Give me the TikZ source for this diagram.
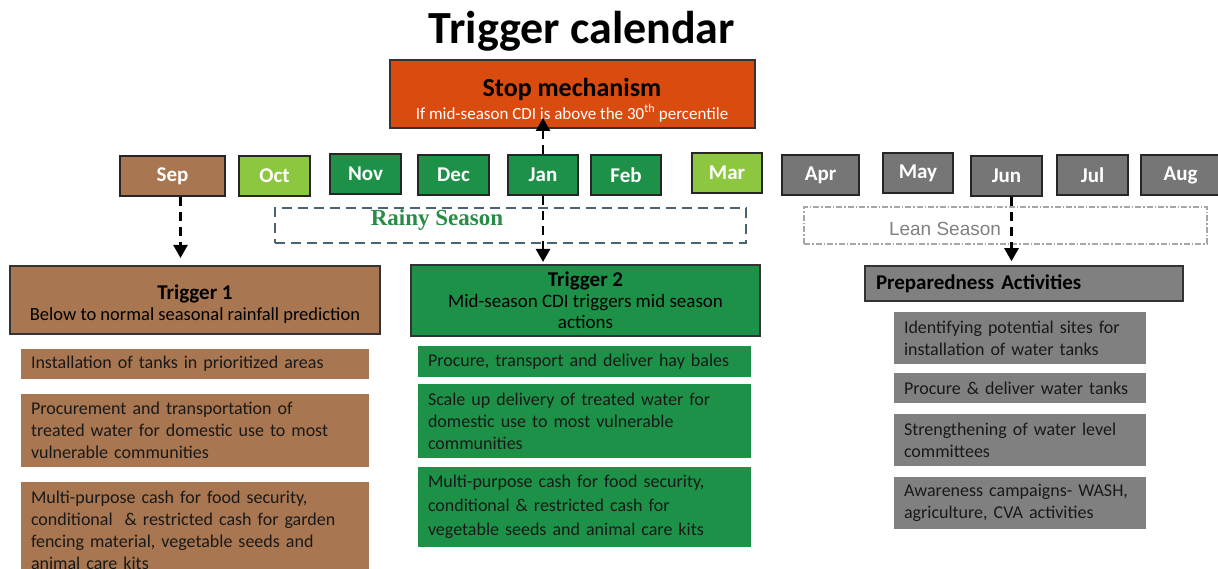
\documentclass[tikz,border=0pt]{standalone}
\usepackage{fontspec}
\setmainfont{Carlito}
\newfontfamily\rainfont{Liberation Serif}
\newfontfamily\leanfont{Liberation Sans}
\usetikzlibrary{arrows.meta}

\definecolor{brownfill}{RGB}{168,118,80}
\definecolor{darkgreen}{RGB}{30,145,72}
\definecolor{lightgreen}{RGB}{141,198,63}
\definecolor{monthgrey}{RGB}{118,118,118}
\definecolor{prepgrey}{RGB}{128,128,128}
\definecolor{stoporange}{RGB}{218,75,15}
\definecolor{rainline}{RGB}{72,100,115}
\definecolor{raintext}{RGB}{40,140,70}

\tikzset{
  month/.style={draw=black!85, line width=2.5pt, text=white, inner sep=0pt,
    font=\fontsize{21}{24}\selectfont\bfseries, minimum height=40pt},
  trig/.style={draw=black!80, line width=2pt, align=center, inner sep=0pt},
  item/.style={inner xsep=10pt, inner ysep=0pt, align=left, text=black!90,
    font=\fontsize{18}{22}\selectfont},
  arr/.style={line width=2.5pt, dash pattern=on 9pt off 6pt,
    -{Triangle[width=14pt,length=13pt]}}
}

\begin{document}
\begin{tikzpicture}[x=1pt,y=-1pt]
    \useasboundingbox (0,0) rectangle (1218,569);

    % title and stop box
    \node[font=\fontsize{46}{50}\selectfont\bfseries] (title) at (582,31) {Trigger calendar};
    \node[trig, fill=stoporange, minimum width=365pt, minimum height=68pt,
        font=\fontsize{17}{20}\selectfont] (stop) at (572,94)
        {\rule{0pt}{30pt}{\fontsize{26}{28}\selectfont\bfseries Stop mechanism}\\[3pt]
         {\color{white}If mid-season CDI is above the 30\textsuperscript{th} percentile}};

    % months
    \foreach \m/\xl/\xr/\yc/\c in {Sep/120/225/176/brownfill, Oct/239/310/176/lightgreen,
        Nov/330/401/174/darkgreen, Dec/418/489/175/darkgreen, Jan/508/578/175/darkgreen,
        Feb/591/661/175/darkgreen, Mar/692/762/173/lightgreen, Apr/782/859/175/monthgrey,
        May/883/953/173/monthgrey, Jun/971/1042/176/monthgrey, Jul/1057/1128/175/monthgrey,
        Aug/1141/1220/175/monthgrey}
        \node[month, fill=\c, minimum width={\xr-\xl}] (\m) at ({(\xl+\xr)/2},\yc) {\m};

    % seasons
    \node[draw=rainline, line width=2.5pt, dash pattern=on 10pt off 6pt,
        minimum width=471pt, minimum height=35pt] (rainy) at (510.5,225.5) {};
    \node[font=\rainfont\fontsize{23}{25}\selectfont\bfseries, text=raintext] (rainylbl) at (437,220) {Rainy Season};
    \node[draw=black!35, line width=1.2pt, dash pattern=on 6pt off 2pt on 1.5pt off 2pt,
        minimum width=403pt, minimum height=37pt] (lean) at (1005.5,225.5) {};
    \node[font=\leanfont\fontsize{19}{21}\selectfont, text=prepgrey] (leanlbl) at (945,229) {Lean Season};

    % trigger boxes
    \node[trig, fill=brownfill, minimum width=370pt, minimum height=68pt,
        font=\fontsize{18.5}{21}\selectfont] (trigA) at (195,300)
        {\rule{0pt}{22pt}{\fontsize{21}{23}\selectfont\bfseries Trigger 1}\\
         Below to normal seasonal rainfall prediction};
    \node[trig, fill=darkgreen, minimum width=349pt, minimum height=71pt,
        font=\fontsize{19}{21}\selectfont] (trigB) at (585.5,300.5)
        {{\fontsize{21}{23}\selectfont\bfseries Trigger 2}\\
         Mid-season CDI triggers mid season\\actions};
    \node[draw=black!80, line width=1.5pt, fill=prepgrey, inner xsep=11pt, inner ysep=0pt,
        text width=296pt, align=left, minimum height=35pt,
        font=\fontsize{21}{23}\selectfont\bfseries] (prep) at (1024,283.5) {Preparedness Activities};

    % trigger 1 actions
    \node[item, fill=brownfill, text width=328pt, minimum height=30pt] (a1) at (195,364)
        {Installation of tanks in prioritized areas};
    \node[item, fill=brownfill, text width=328pt, minimum height=73pt] (a2) at (195,430.5)
        {Procurement and transportation of\\treated water for domestic use to most\\vulnerable communities};
    \node[item, fill=brownfill, text width=328pt, minimum height=96pt] (a3) at (195,530)
        {Multi-purpose cash for food security,\\conditional \ \& restricted cash for garden\\fencing material, vegetable seeds and\\animal care kits};

    % trigger 2 actions
    \node[item, fill=darkgreen, text width=313pt, minimum height=31pt] (b1) at (584.5,361.5)
        {Procure, transport and deliver hay bales};
    \node[item, fill=darkgreen, text width=313pt, minimum height=74pt] (b2) at (584.5,421)
        {Scale up delivery of treated water for\\domestic use to most vulnerable\\communities};
    \node[item, fill=darkgreen, text width=313pt, minimum height=80pt,
        font=\fontsize{18}{24}\selectfont] (b3) at (584.5,507)
        {Multi-purpose cash for food security,\\conditional \& restricted cash for\\vegetable seeds and animal care kits};

    % preparedness actions
    \node[item, fill=prepgrey, text width=232pt, minimum height=52pt] (c1) at (1020,338)
        {Identifying potential sites for\\installation of water tanks};
    \node[item, fill=prepgrey, text width=232pt, minimum height=30pt] (c2) at (1020,388)
        {Procure \& deliver water tanks};
    \node[item, fill=prepgrey, text width=232pt, minimum height=52pt] (c3) at (1020,440)
        {Strengthening of water level\\committees};
    \node[item, fill=prepgrey, text width=232pt, minimum height=52pt] (c4) at (1020,503)
        {Awareness campaigns- WASH,\\agriculture, CVA activities};

    % arrows
    \coordinate (sepfoot) at ([xshift=8pt]Sep.south);
    \coordinate (junfoot) at ([xshift=5pt]Jun.south);
    \draw[arr, shorten >=7pt] (sepfoot) -- (sepfoot |- trigA.north);
    \draw[arr, shorten >=2pt] (Jan.south) -- (Jan.south |- trigB.north);
    \draw[arr, shorten >=-11pt] (Jan.north) -- (Jan.north |- stop.south);
    \draw[arr, shorten >=4pt] (junfoot) -- (junfoot |- prep.north);
\end{tikzpicture}
\end{document}
